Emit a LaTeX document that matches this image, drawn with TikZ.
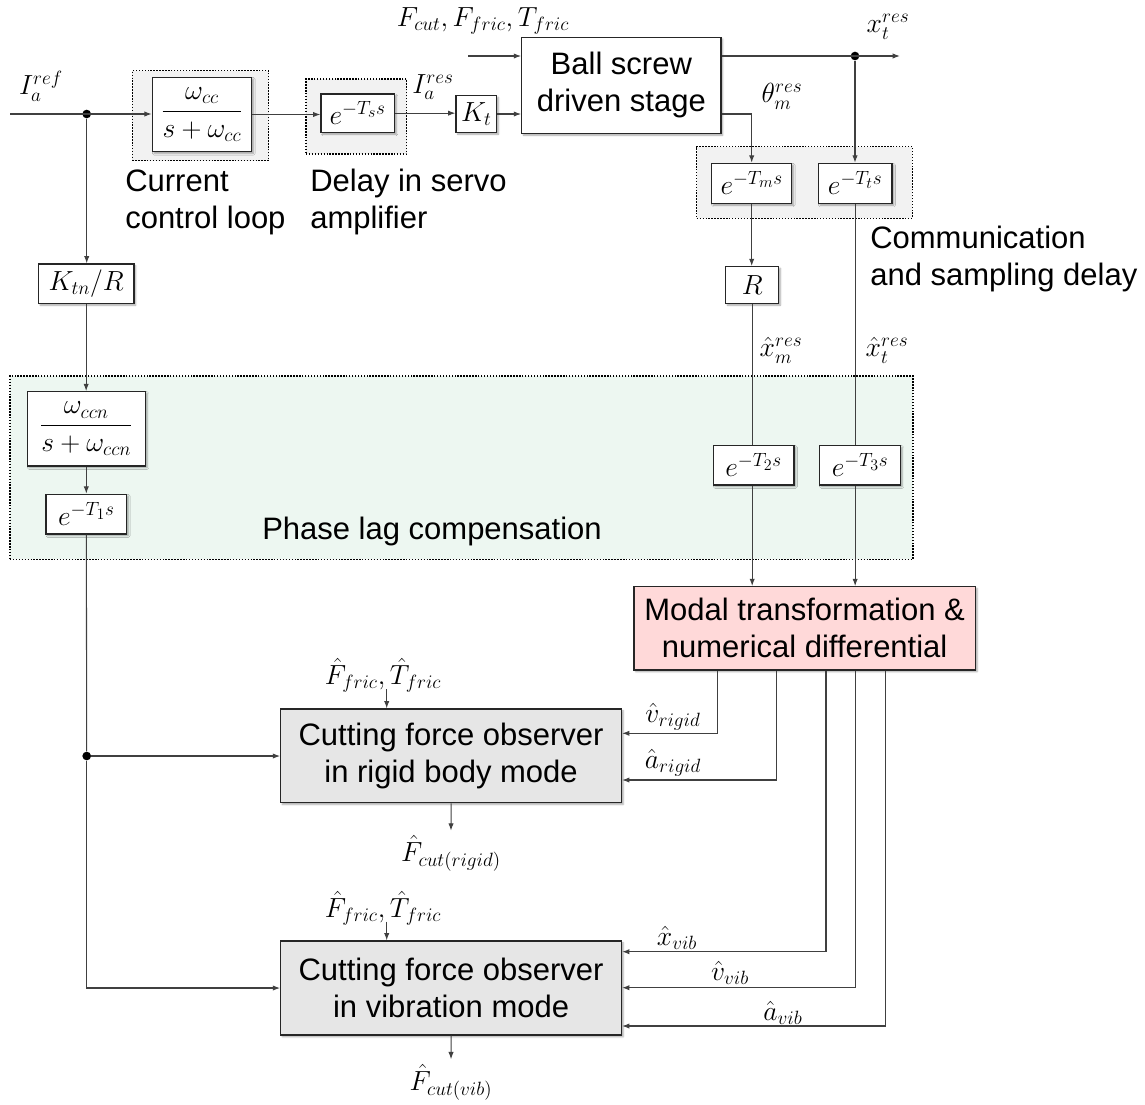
\documentclass[tikz,border=0pt]{standalone}
\usepackage{amsmath}
\usepackage{fontspec}
\setmainfont{Liberation Sans}
\usetikzlibrary{arrows.meta,fit,shadows.blur}

\definecolor{grpgray}{HTML}{F2F2F2}
\definecolor{phasegreen}{HTML}{EDF7F1}
\definecolor{modalpink}{HTML}{FFD9D9}
\definecolor{obsgray}{HTML}{E6E6E6}
\definecolor{wirec}{HTML}{404040}

\newcommand\lbl{\fontsize{23.25}{27.75}\selectfont}
\newcommand\mth{\fontsize{21}{25}\selectfont}
% larger scripts for the signal names
\DeclareMathSizes{21}{20.5}{15.5}{12}

\begin{document}
\begin{tikzpicture}[x=0.75pt,y=-0.75pt,
  blk/.style={draw=black!85, line width=0.9pt, fill=white, inner sep=0pt, font=\mth,
    blur shadow={shadow xshift=1.3pt, shadow yshift=-1.3pt, shadow blur radius=1.3pt, shadow opacity=35}},
  sz/.style 2 args={minimum width=#1*0.75pt, minimum height=#2*0.75pt},
  grp/.style={draw=black, dash pattern=on 1.1pt off 1.1pt, line width=1.1pt, inner sep=0pt},
  wire/.style={draw=wirec, line width=0.8pt},
  arr/.style={wire, -{Latex[length=5.5pt,width=4pt]}},
  jdot/.style={circle, fill=black, inner sep=0pt, minimum size=6.5pt},
  mlabel/.style={font=\mth, inner sep=1pt},
  tlabel/.style={font=\lbl, align=left, inner sep=0pt},
]
\useasboundingbox (0,0) rectangle (1145,1104);

% dotted groups
\node[grp, fill=grpgray, fit={(132.3,70.7) (268.7,160.7)}] (ccgrp) {};
\node[grp, fill=grpgray, fit={(306,79) (406.7,154)}] (dlygrp) {};
\node[grp, fill=grpgray, fit={(696.7,146.7) (912.3,218.3)}] (comgrp) {};
\node[grp, fill=phasegreen, fit={(10,376) (912.8,559.3)}] (phgrp) {};

% blocks
\node[blk, sz={99.4}{74.4}] (ccl) at (202,114.5) {$\dfrac{\omega_{cc}}{s+\omega_{cc}}$};
\node[blk, sz={73.3}{38.3}] (dts) at (357.65,113.15) {$e^{-T_s s}$};
\node[blk, sz={40.7}{36.6}] (kt) at (476.35,114) {$K_t$};
\node[blk, sz={199.3}{96}, font=\lbl, align=center] (stage) at (621.35,85.3) {Ball screw\\driven stage};
\node[blk, sz={80}{40}] (dtm) at (751.7,183.3) {$e^{-T_m s}$};
\node[blk, sz={73.7}{40}] (dtt) at (855.15,183.3) {$e^{-T_t s}$};
\node[blk, sz={53}{36.6}] (rg) at (752.2,285) {$R$};
\node[blk, sz={95.7}{39.3}] (ktn) at (86.15,283.65) {$K_{tn}/R$};
\node[blk, sz={118}{74.3}] (ccn) at (86.3,428.85) {$\dfrac{\omega_{ccn}}{s+\omega_{ccn}}$};
\node[blk, sz={80.7}{39.7}] (d1) at (86.35,514.15) {$e^{-T_1 s}$};
\node[blk, sz={80.7}{39.3}] (d2) at (753.65,465.35) {$e^{-T_2 s}$};
\node[blk, sz={80.6}{39.3}] (d3) at (860,465.35) {$e^{-T_3 s}$};
\node[blk, sz={341.3}{83.3}, fill=modalpink, font=\lbl, align=center] (modal) at (804.65,628.35) {Modal transformation \&\\numerical differential};
\node[blk, sz={340.8}{93.7}, fill=obsgray, font=\lbl, align=center] (obr) at (451.1,755.85) {Cutting force observer\\in rigid body mode};
\node[blk, sz={340.8}{94}, fill=obsgray, font=\lbl, align=center] (obv) at (451.1,988) {Cutting force observer\\in vibration mode};

% junctions and free ends
\coordinate (src) at (10,114);
\node[jdot] (j1) at (86.7,114) {};
\coordinate (fin) at (468,56);
\node[jdot] (j2) at (855,56) {};
\coordinate (xout) at (900,56);
\node[jdot] (j3) at (86.7,756) {};
\coordinate (ffr) at (386.7,689);
\coordinate (ffv) at (386.7,921.7);
\coordinate (outr) at (451,830.7);
\coordinate (outv) at (451,1059.3);
\coordinate (tvr) at (717.3,733.3);
\coordinate (tar) at (776.7,780);
\coordinate (txv) at (826,951.7);
\coordinate (tvv) at (855.3,987.7);
\coordinate (tav) at (885.3,1026);

% forward path
\draw[arr] (src) -- (src -| ccl.west);
\draw[arr] (ccl.east) -- (ccl.east -| dts.west);
\draw[arr] (dts.east) -- (dts.east -| kt.west);
\draw[arr] (kt.east) -- (kt.east -| stage.west);
\draw[arr] (fin) -- (fin -| stage.west);
\draw[arr] (stage.east |- fin) -- (xout);
\draw[arr] (j2) -- (j2 |- dtt.north);
\draw[arr] (stage.east |- kt.east) -| (dtm.north);
\draw[arr] (dtm.south) -- (dtm.south |- rg.north);
\draw[wire] (rg.south) -- (rg.south |- d2.north);
\draw[wire] (dtt.south) -- (dtt.south |- d3.north);
\draw[arr] (rg.south |- d2.south) -- (rg.south |- modal.north);
\draw[arr] (dtt.south |- d3.south) -- (dtt.south |- modal.north);

% compensation branch
\draw[arr] (j1) -- (j1 |- ktn.north);
\draw[arr] (ktn.south) -- (ktn.south |- ccn.north);
\draw[arr] (ccn.south) -- (ccn.south |- d1.north);
\draw[wire] (d1.south) -- (j3);
\draw[arr] (j3) -- (j3 -| obr.west);
\draw[arr] (j3) |- (obv.west);

% modal outputs
\draw[arr] (modal.south -| tvr) -- (tvr) -- (tvr -| obr.east);
\draw[arr] (modal.south -| tar) -- (tar) -- (tar -| obr.east);
\draw[arr] (modal.south -| txv) -- (txv) -- (txv -| obv.east);
\draw[arr] (modal.south -| tvv) -- (tvv) -- (tvv -| obv.east);
\draw[arr] (modal.south -| tav) -- (tav) -- (tav -| obv.east);

% observer inputs and outputs
\draw[arr] (ffr) -- (ffr |- obr.north);
\draw[arr] (ffv) -- (ffv |- obv.north);
\draw[arr] (obr.south) -- (outr);
\draw[arr] (obv.south) -- (outv);

% signal labels
\node[mlabel] (lIref) at (41,86) {$I_a^{ref}$};
\node[mlabel] (lF) at (483,21) {$F_{cut},F_{fric},T_{fric}$};
\node[mlabel] (lIres) at (433,87) {$I_a^{res}$};
\node[mlabel] (lxt) at (888,27) {$x_t^{res}$};
\node[mlabel] (lth) at (782,96) {$\theta_m^{res}$};
\node[mlabel] (lxm) at (781,350) {$\hat{x}_m^{res}$};
\node[mlabel] (lxth) at (887,350) {$\hat{x}_t^{res}$};
\node[mlabel] (lvr) at (673,717) {$\hat{v}_{rigid}$};
\node[mlabel] (lar) at (673,763) {$\hat{a}_{rigid}$};
\node[mlabel] (lxv) at (677,938) {$\hat{x}_{vib}$};
\node[mlabel] (lvv) at (730,973) {$\hat{v}_{vib}$};
\node[mlabel] (lav) at (783,1013) {$\hat{a}_{vib}$};
\node[mlabel] (lfr) at (383,675) {$\hat{F}_{fric},\hat{T}_{fric}$};
\node[mlabel] (lfv) at (383,908) {$\hat{F}_{fric},\hat{T}_{fric}$};
\node[mlabel] (lcr) at (451,853) {$\hat{F}_{cut(rigid)}$};
\node[mlabel] (lcv) at (451,1082) {$\hat{F}_{cut(vib)}$};

% group captions
\node[tlabel, anchor=west] (tcc) at (125,202) {Current\\control loop};
\node[tlabel, anchor=west] (tdl) at (310,202) {Delay in servo\\amplifier};
\node[tlabel, anchor=west] (tcm) at (870,259) {Communication\\and sampling delay};
\node[tlabel] (tph) at (432,531) {Phase lag compensation};
\end{tikzpicture}
\end{document}
